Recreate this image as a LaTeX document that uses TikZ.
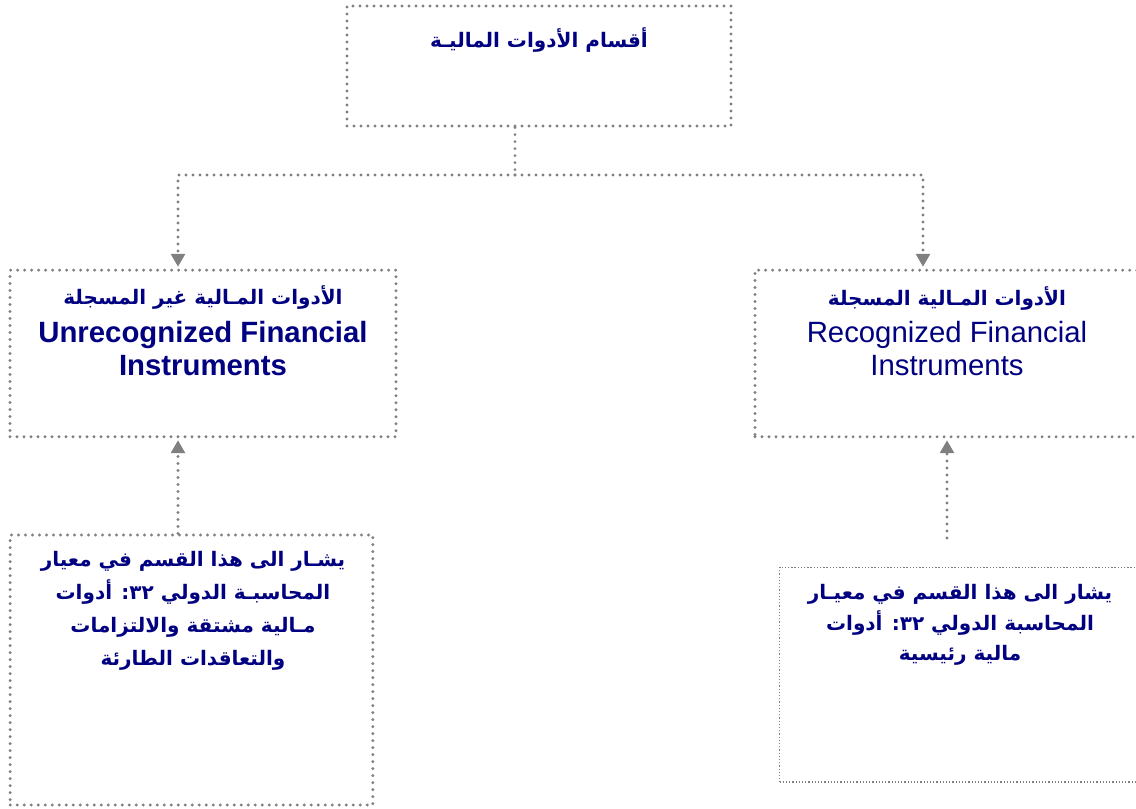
\documentclass[tikz,border=0pt]{standalone}
\usepackage{fontspec}
\setmainfont{Liberation Sans}
\newfontfamily\arabicfont[Script=Arabic]{DejaVu Sans}
\TeXXeTstate=1
\usetikzlibrary{arrows.meta}
\definecolor{navy}{RGB}{0,0,128}
\definecolor{dotgray}{RGB}{128,128,128}

\tikzset{
  box/.style={draw=dotgray, line width=2.4pt, dash pattern=on 0pt off 5.25pt,
    line cap=round, inner sep=0pt},
  finebox/.style={draw=dotgray, line width=1pt, dash pattern=on 1pt off 1.4pt,
    inner sep=0pt},
  conn/.style={draw=dotgray, line width=2.4pt, dash pattern=on 0pt off 5.25pt,
    line cap=round},
  tip/.style={-{Triangle[width=11pt,length=9.5pt,line width=0pt,round=false,fill=dotgray]}},
  atext/.style={text=navy, inner sep=0pt, align=center,
    font=\arabicfont\bfseries\fontsize{15}{24.8}\selectfont},
  etext/.style={text=navy, inner sep=0pt, align=center},
}

\begin{document}
\begin{tikzpicture}[x=0.75pt, y=-0.75pt]
  \clip (0,0) rectangle (1136,808);
  \useasboundingbox (0,0) rectangle (1136,808);
  \fill[white] (0,0) rectangle (1136,808);

  % boxes
  \node[box, minimum width=288pt, minimum height=90pt] (top) at (539,66) {};
  \node[box, minimum width=289.5pt, minimum height=125pt] (L) at (203,353.5) {};
  \node[box, minimum width=288pt, minimum height=125pt] (R) at (947,353.5) {};
  \node[box, minimum width=272pt, minimum height=202.5pt] (LL) at (191.5,670) {};
  \node[finebox, minimum width=270pt, minimum height=161pt] (RL) at (959.5,674.5) {};

  % texts
  \node[atext] (ttl) at (539,40) {\beginR أقسام الأدوات الماليـة\endR};

  \node[atext] (La) at (203,297) {\beginR الأدوات المـالية غير المسجلة\endR};
  \node[etext, font=\bfseries\fontsize{22}{25}\selectfont, anchor=north] (Le) at (203,321)
    {Unrecognized Financial\\Instruments};

  \node[atext] (Ra) at (947,298) {\beginR الأدوات المـالية المسجلة\endR};
  \node[etext, font=\fontsize{22}{25}\selectfont, anchor=north] (Re) at (947,321)
    {Recognized Financial\\Instruments};

  \node[atext, anchor=north] (LLt) at (193,551) {%
    \beginR يشـار الى هذا القسم في معيار\endR\\
    \beginR المحاسبـة الدولي \beginL ٣٢\endL: أدوات\endR\\
    \beginR مـالية مشتقة والالتزامات\endR\\
    \beginR والتعاقدات الطارئة\endR};

  \node[atext, anchor=north, font=\arabicfont\bfseries\fontsize{15}{23}\selectfont]
    (RLt) at (960,584) {%
    \beginR يشار الى هذا القسم في معيـار\endR\\
    \beginR المحاسبة الدولي \beginL ٣٢\endL: أدوات\endR\\
    \beginR مالية رئيسية\endR};

  % connectors
  \coordinate (j) at (515,175);
  \coordinate (jl) at (178,175);
  \coordinate (jr) at (923,175);
  \coordinate (rf) at (947,538);
  \draw[conn] (j |- top.south) -- (j);
  \draw[conn, tip] (j) -- (jl) -- ([yshift=1.5pt]jl |- L.north);
  \draw[conn, tip] (j) -- (jr) -- ([yshift=1.5pt]jr |- R.north);
  \draw[conn, tip] (LL.north -| jl) -- ([yshift=-1.5pt]jl |- L.south);
  \draw[conn, tip] (rf) -- ([yshift=-1.5pt]rf |- R.south);
\end{tikzpicture}
\end{document}
